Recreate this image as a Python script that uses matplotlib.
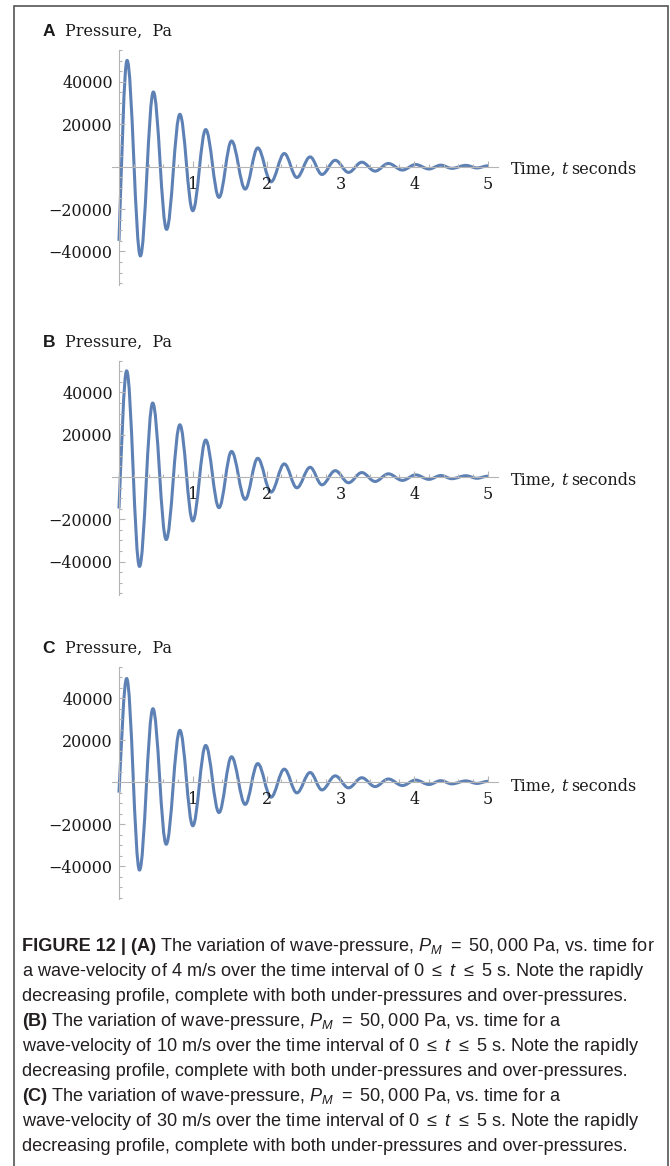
import matplotlib
matplotlib.use('Agg')
import matplotlib.pyplot as plt
from matplotlib.path import Path
from matplotlib.patches import PathPatch, Rectangle

#### data (start, turning points, end)
letters = ['A', 'B', 'C']
velocities = [4, 10, 30]

t_A = [0, 0.11, 0.29, 0.466, 0.645, 0.825, 1.0, 1.175, 1.355, 1.525, 1.71, 1.88, 2.06, 2.24,
       2.41, 2.59, 2.75, 2.93, 3.11, 3.29, 3.47, 3.65, 3.84, 4.02, 4.2, 4.36, 4.51, 4.7, 4.85, 5.0]
p_A = [-35000, 50100, -42100, 35200, -29600, 24700, -20800, 17500, -14500, 12100, -10600, 8850,
       -7150, 6200, -5100, 4600, -3700, 3000, -2700, 2100, -2100, 1500, -1600, 1000, -1100, 700,
       -800, 600, -600, 400]

t_B = [0, 0.104, 0.278, 0.457, 0.64, 0.825, 1.0, 1.175, 1.355, 1.525, 1.71, 1.88, 2.06, 2.24,
       2.41, 2.59, 2.75, 2.93, 3.11, 3.29, 3.47, 3.65, 3.84, 4.02, 4.2, 4.36, 4.51, 4.7, 4.85, 5.0]
p_B = [-14900, 50200, -42300, 35000, -29600, 24700, -20800, 17500, -14500, 12100, -10600, 8850,
       -7150, 6200, -5100, 4600, -3700, 3000, -2700, 2100, -2100, 1500, -1600, 1000, -1100, 700,
       -800, 600, -600, 400]

t_C = [0, 0.104, 0.278, 0.46, 0.64, 0.825, 1.0, 1.175, 1.355, 1.525, 1.71, 1.88, 2.06, 2.24,
       2.41, 2.59, 2.75, 2.93, 3.11, 3.29, 3.47, 3.65, 3.84, 4.02, 4.2, 4.36, 4.51, 4.7, 4.85, 5.0]
p_C = [-5000, 49400, -41900, 35000, -29600, 24700, -20800, 17500, -14500, 12100, -10600, 8850,
       -7150, 6200, -5100, 4600, -3700, 3000, -2700, 2100, -2100, 1500, -1600, 1000, -1100, 700,
       -800, 600, -600, 400]

times = [t_A, t_B, t_C]
pressures = [p_A, p_B, p_C]

x_ticks = [1, 2, 3, 4, 5]
y_ticks = [-40000, -20000, 20000, 40000]
y_minor = [v for v in range(-55000, 55001, 5000) if v % 20000 != 0]
x_minor = [k / 5 for k in range(0, 26) if k % 5 != 0]

cap_font, cap_size = 'Liberation Sans', 13.1

plt.rcParams['mathtext.fontset'] = 'custom'
plt.rcParams['mathtext.rm'] = cap_font
plt.rcParams['mathtext.it'] = cap_font + ':italic'
plt.rcParams['mathtext.bf'] = cap_font + ':bold'

W, H = 670, 1166
fig = plt.figure(figsize=(W / 100, H / 100), dpi=100)
renderer = fig.canvas.get_renderer()

blue = '#5e81b5'
axis_grey = '#b4b4b4'
serif = 'DejaVu Serif'

# outer frame
fig.add_artist(Rectangle((14 / W, -0.01), (667.5 - 14) / W, 1.01 - 6 / H,
                         transform=fig.transFigure, fill=False, ec='#555555', lw=1.2))

panel_top = [50, 360.7, 666.7]
panel_bot = [285, 595, 899.3]
left_px, right_px = 111.6, 497.6


def wave_path(t, p):
    # smooth cubic pieces with flat tangents at each turning point
    k = 0.363
    verts = [(t[0], p[0])]
    codes = [Path.MOVETO]
    for i in range(len(t) - 1):
        t0, t1, p0, p1 = t[i], t[i + 1], p[i], p[i + 1]
        dx = t1 - t0
        if i == 0:
            c1 = (t0 + dx / 3, p0 + 0.42 * (p1 - p0))
        else:
            c1 = (t0 + k * dx, p0)
        c2 = (t1 - k * dx, p1)
        verts += [c1, c2, (t1, p1)]
        codes += [Path.CURVE4] * 3
    return Path(verts, codes)


def chain(x_px, base_px, parts, gap_px):
    x = x_px
    for s, kw in parts:
        txt = fig.text(x / W, 1 - base_px / H, s, va='baseline', ha='left', **kw)
        x = txt.get_window_extent(renderer).x1 + gap_px


for i in range(3):
    top, bot = panel_top[i], panel_bot[i]
    ax = fig.add_axes([left_px / W, 1 - bot / H, (right_px - left_px) / W, (bot - top) / H])
    ax.set_xlim(-0.1, 5.13)
    ax.set_ylim(-55800, 54800)
    ax.patch.set_alpha(0)
    for s in ['top', 'right']:
        ax.spines[s].set_visible(False)
    ax.spines['left'].set_position(('data', 0))
    ax.spines['bottom'].set_position(('data', 0))
    for s in ['left', 'bottom']:
        ax.spines[s].set_color(axis_grey)
        ax.spines[s].set_linewidth(0.8)

    ax.add_patch(PathPatch(wave_path(times[i], pressures[i]), fill=False,
                           ec=blue, lw=2.2, joinstyle='round', capstyle='butt'))

    ax.set_xticks(x_ticks)
    ax.set_xticklabels([str(v) for v in x_ticks])
    ax.set_xticks(x_minor, minor=True)
    ax.set_yticks(y_ticks)
    ax.set_yticklabels(['\u2212%d' % -v if v < 0 else '%d' % v for v in y_ticks])
    ax.set_yticks(y_minor, minor=True)
    ax.tick_params(which='both', direction='in', color=axis_grey, width=0.8)
    ax.tick_params(which='major', length=4.5)
    ax.tick_params(which='minor', length=2.5)
    ax.tick_params(axis='x', which='major', pad=6.5, labelsize=11.5)
    ax.tick_params(axis='y', which='major', pad=4.5, labelsize=11.5)
    for lab in ax.get_xticklabels() + ax.get_yticklabels():
        lab.set_family(serif)
        lab.set_color('#1a1a1a')

    # panel letter and axis labels
    fig.text(42.7 / W, 1 - (top - 18.3) / H, letters[i], ha='left', va='center',
             family='Liberation Sans', fontweight='bold', size=12.5, color='#1a1a1a')
    fig.text(65 / W, 1 - (top - 18.3) / H, 'Pressure,  Pa', ha='left', va='center',
             family=serif, size=11.5, color='#1a1a1a')
    zero_px = top + 116.5
    chain(511, zero_px + 7.5,
          [('Time,', dict(family=serif, size=11.5, color='#1a1a1a')),
           ('t', dict(family=serif, style='italic', size=11.5, color='#1a1a1a')),
           ('seconds', dict(family=serif, size=11.5, color='#1a1a1a'))], 4)

#### caption
cap = dict(family=cap_font, size=cap_size, color='#231f20')
capb = dict(family=cap_font, size=cap_size, color='#231f20', fontweight='bold')
pm = r'$P_M\ =\ 50,000$'
rng = r'$0\ \leq\ t\ \leq\ 5$'
lines = [
    [('FIGURE 12 | (A)', capb), ('The variation of wave-pressure, ' + pm + ' Pa, vs. time for', cap)],
    [('a wave-velocity of %d m/s over the time interval of ' % velocities[0] + rng + ' s. Note the rapidly', cap)],
    [('decreasing profile, complete with both under-pressures and over-pressures.', cap)],
    [('(B)', capb), ('The variation of wave-pressure, ' + pm + ' Pa, vs. time for a', cap)],
    [('wave-velocity of %d m/s over the time interval of ' % velocities[1] + rng + ' s. Note the rapidly', cap)],
    [('decreasing profile, complete with both under-pressures and over-pressures.', cap)],
    [('(C)', capb), ('The variation of wave-pressure, ' + pm + ' Pa, vs. time for a', cap)],
    [('wave-velocity of %d m/s over the time interval of ' % velocities[2] + rng + ' s. Note the rapidly', cap)],
    [('decreasing profile, complete with both under-pressures and over-pressures.', cap)],
]
for j, parts in enumerate(lines):
    chain(22, 950.7 + 25.0 * j, parts, 4)

fig.savefig('out.png', dpi=100)
